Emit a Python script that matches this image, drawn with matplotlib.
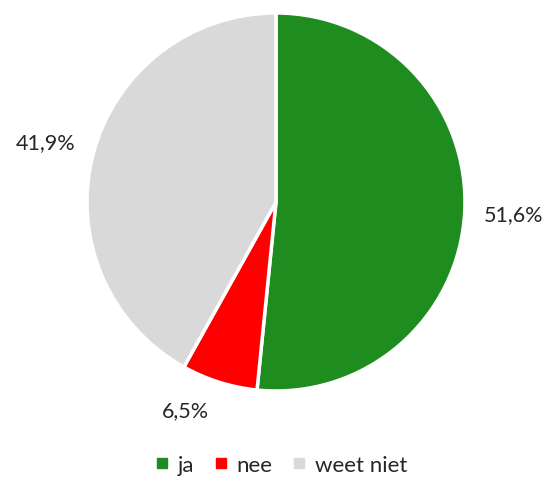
import matplotlib
matplotlib.use("Agg")
import matplotlib.pyplot as plt
from matplotlib.lines import Line2D

labels = ["ja", "nee", "weet niet"]
values = [51.6, 6.5, 41.9]
colors = ["#1e8c1e", "#ff0000", "#d9d9d9"]

plt.rcParams['font.family'] = ['Lato', 'DejaVu Sans']

fig = plt.figure(figsize=(5.46, 4.89), dpi=100)
ax = fig.add_axes([0.5055 - 0.3462, 0.5849 - 0.3865, 0.6923, 0.773])

wedges, texts, autotexts = ax.pie(
    values, colors=colors, startangle=90, counterclock=False,
    autopct=lambda p: f"{p:.1f}%".replace(".", ","), pctdistance=1.26,
    wedgeprops=dict(edgecolor="white", linewidth=2.5),
    textprops=dict(fontsize=15.5, color="#262626"))
ax.set_xlim(-1, 1)
ax.set_ylim(-1, 1)
ax.set_aspect("equal")
ax.axis("off")

# nudge the small slice label like Excel does
x, y = autotexts[1].get_position()
autotexts[1].set_position((x - 0.1, y + 0.1))

handles = [Line2D([], [], marker="s", linestyle="none", markersize=6.5,
                  markerfacecolor=c, markeredgecolor=c) for c in colors]
fig.legend(handles, labels, loc="center", bbox_to_anchor=(0.515, 1 - 466 / 489),
           ncol=3, frameon=False, fontsize=16, handlelength=0.6,
           handletextpad=0.4, columnspacing=0.9, labelcolor="#262626")

fig.savefig("out.png", dpi=100)
